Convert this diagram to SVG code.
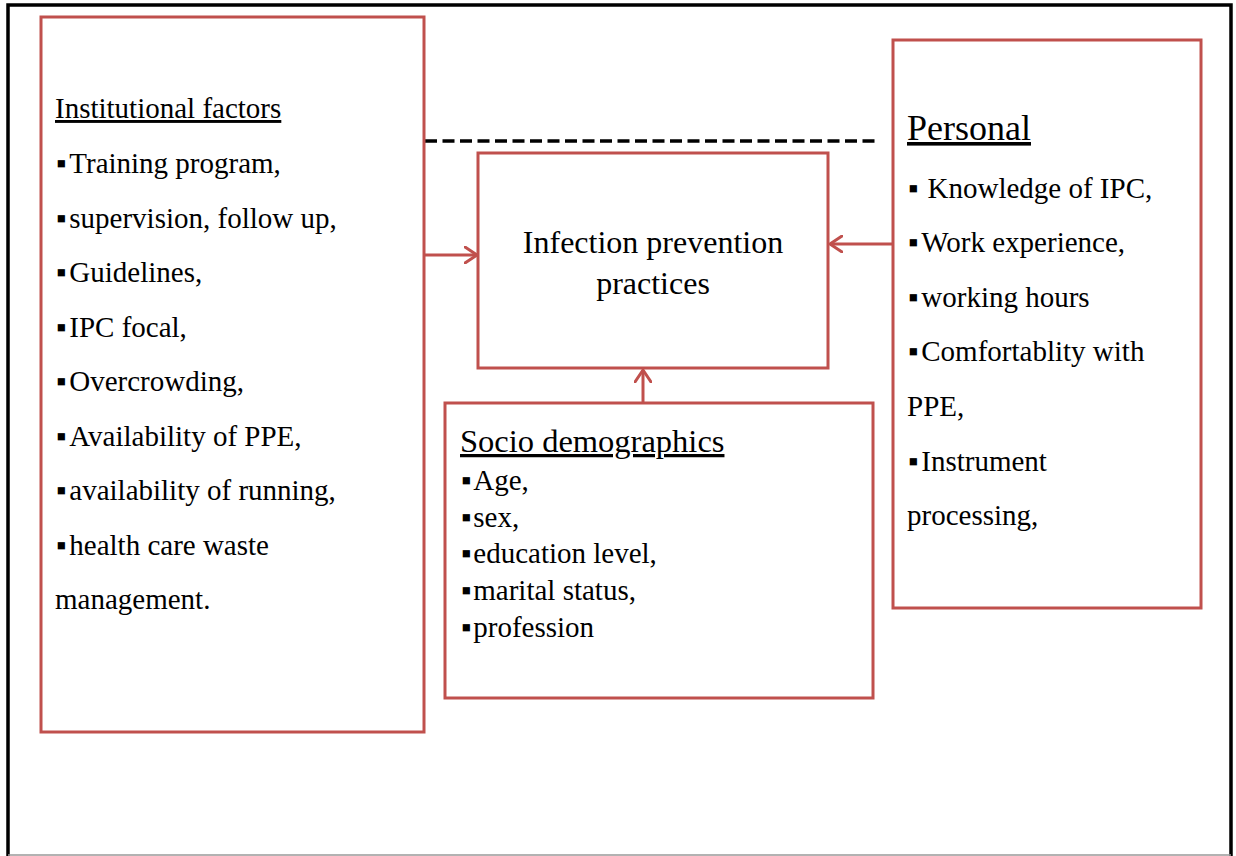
<svg xmlns="http://www.w3.org/2000/svg" width="1236" height="856" viewBox="0 0 1236 856">
  <style>
    .box { fill: #ffffff; stroke: #C0504D; stroke-width: 3; }
    .link { fill: none; stroke: #C0504D; stroke-width: 3; }
    .t { font-family: "Liberation Serif", "Times New Roman", serif; fill: #000000; }
    .item { font-size: 29px; }
    .ul { text-decoration: underline; }
  </style>
  <defs>
    <marker id="arrow" viewBox="0 0 14 18" refX="13" refY="9" markerWidth="14" markerHeight="18" markerUnits="userSpaceOnUse" orient="auto">
      <path d="M1,1 L13,9 L1,17" fill="none" stroke="#C0504D" stroke-width="3" stroke-linecap="round" stroke-linejoin="round"/>
    </marker>
  </defs>

  <rect width="1236" height="856" fill="#ffffff"/>

  <!-- page frame -->
  <g id="frame">
    <path d="M8,856 L8,5 L1231,5 L1231,856" fill="none" stroke="#000000" stroke-width="3.5"/>
    <line x1="8" y1="855" x2="1231" y2="855" stroke="#999999" stroke-width="1.5"/>
  </g>

  <!-- connectors -->
  <g id="connectors">
    <line x1="425" y1="141" x2="880" y2="141" stroke="#000000" stroke-width="3.5" stroke-dasharray="12 5.5"/>
    <line class="link" x1="424" y1="255" x2="477" y2="255" marker-end="url(#arrow)"/>
    <line class="link" x1="893" y1="244" x2="830" y2="244" marker-end="url(#arrow)"/>
    <line class="link" x1="643" y1="403" x2="643" y2="370" marker-end="url(#arrow)"/>
  </g>

  <!-- institutional factors -->
  <g id="institutional">
    <rect class="box" x="41" y="17" width="383" height="715"/>
    <text class="t ul" x="55" y="118" font-size="29">Institutional factors</text>
    <g class="t item">
      <text x="56" y="173">▪<tspan dx="3">Training program,</tspan></text>
      <text x="56" y="228">▪<tspan dx="3">supervision, follow up,</tspan></text>
      <text x="56" y="282">▪<tspan dx="3">Guidelines,</tspan></text>
      <text x="56" y="337">▪<tspan dx="3">IPC focal,</tspan></text>
      <text x="56" y="391">▪<tspan dx="3">Overcrowding,</tspan></text>
      <text x="56" y="446">▪<tspan dx="3">Availability of PPE,</tspan></text>
      <text x="56" y="500">▪<tspan dx="3">availability of running,</tspan></text>
      <text x="56" y="555">▪<tspan dx="3">health care waste</tspan></text>
      <text x="55" y="609">management.</text>
    </g>
  </g>

  <!-- outcome -->
  <g id="practices">
    <rect class="box" x="478" y="153" width="350" height="215"/>
    <text class="t" x="653" y="253" font-size="32" text-anchor="middle">Infection prevention</text>
    <text class="t" x="653" y="294" font-size="32" text-anchor="middle">practices</text>
  </g>

  <!-- personal factors -->
  <g id="personal">
    <rect class="box" x="893" y="40" width="308" height="568"/>
    <text class="t ul" x="907" y="140" font-size="36">Personal</text>
    <g class="t item">
      <text x="908" y="198">▪ <tspan dx="2">Knowledge of IPC,</tspan></text>
      <text x="908" y="252">▪<tspan dx="3">Work experience,</tspan></text>
      <text x="908" y="307">▪<tspan dx="3">working hours</tspan></text>
      <text x="908" y="361">▪<tspan dx="3">Comfortablity with</tspan></text>
      <text x="907" y="416">PPE,</text>
      <text x="908" y="471">▪<tspan dx="3">Instrument</tspan></text>
      <text x="907" y="525">processing,</text>
    </g>
  </g>

  <!-- socio demographics -->
  <g id="socio">
    <rect class="box" x="445" y="403" width="428" height="295"/>
    <text class="t ul" x="460" y="452" font-size="32.5">Socio demographics</text>
    <g class="t item">
      <text x="461" y="490">▪<tspan dx="2">Age,</tspan></text>
      <text x="461" y="527">▪<tspan dx="2">sex,</tspan></text>
      <text x="461" y="563">▪<tspan dx="2">education level,</tspan></text>
      <text x="461" y="600">▪<tspan dx="2">marital status,</tspan></text>
      <text x="461" y="637">▪<tspan dx="2">profession</tspan></text>
    </g>
  </g>
</svg>
